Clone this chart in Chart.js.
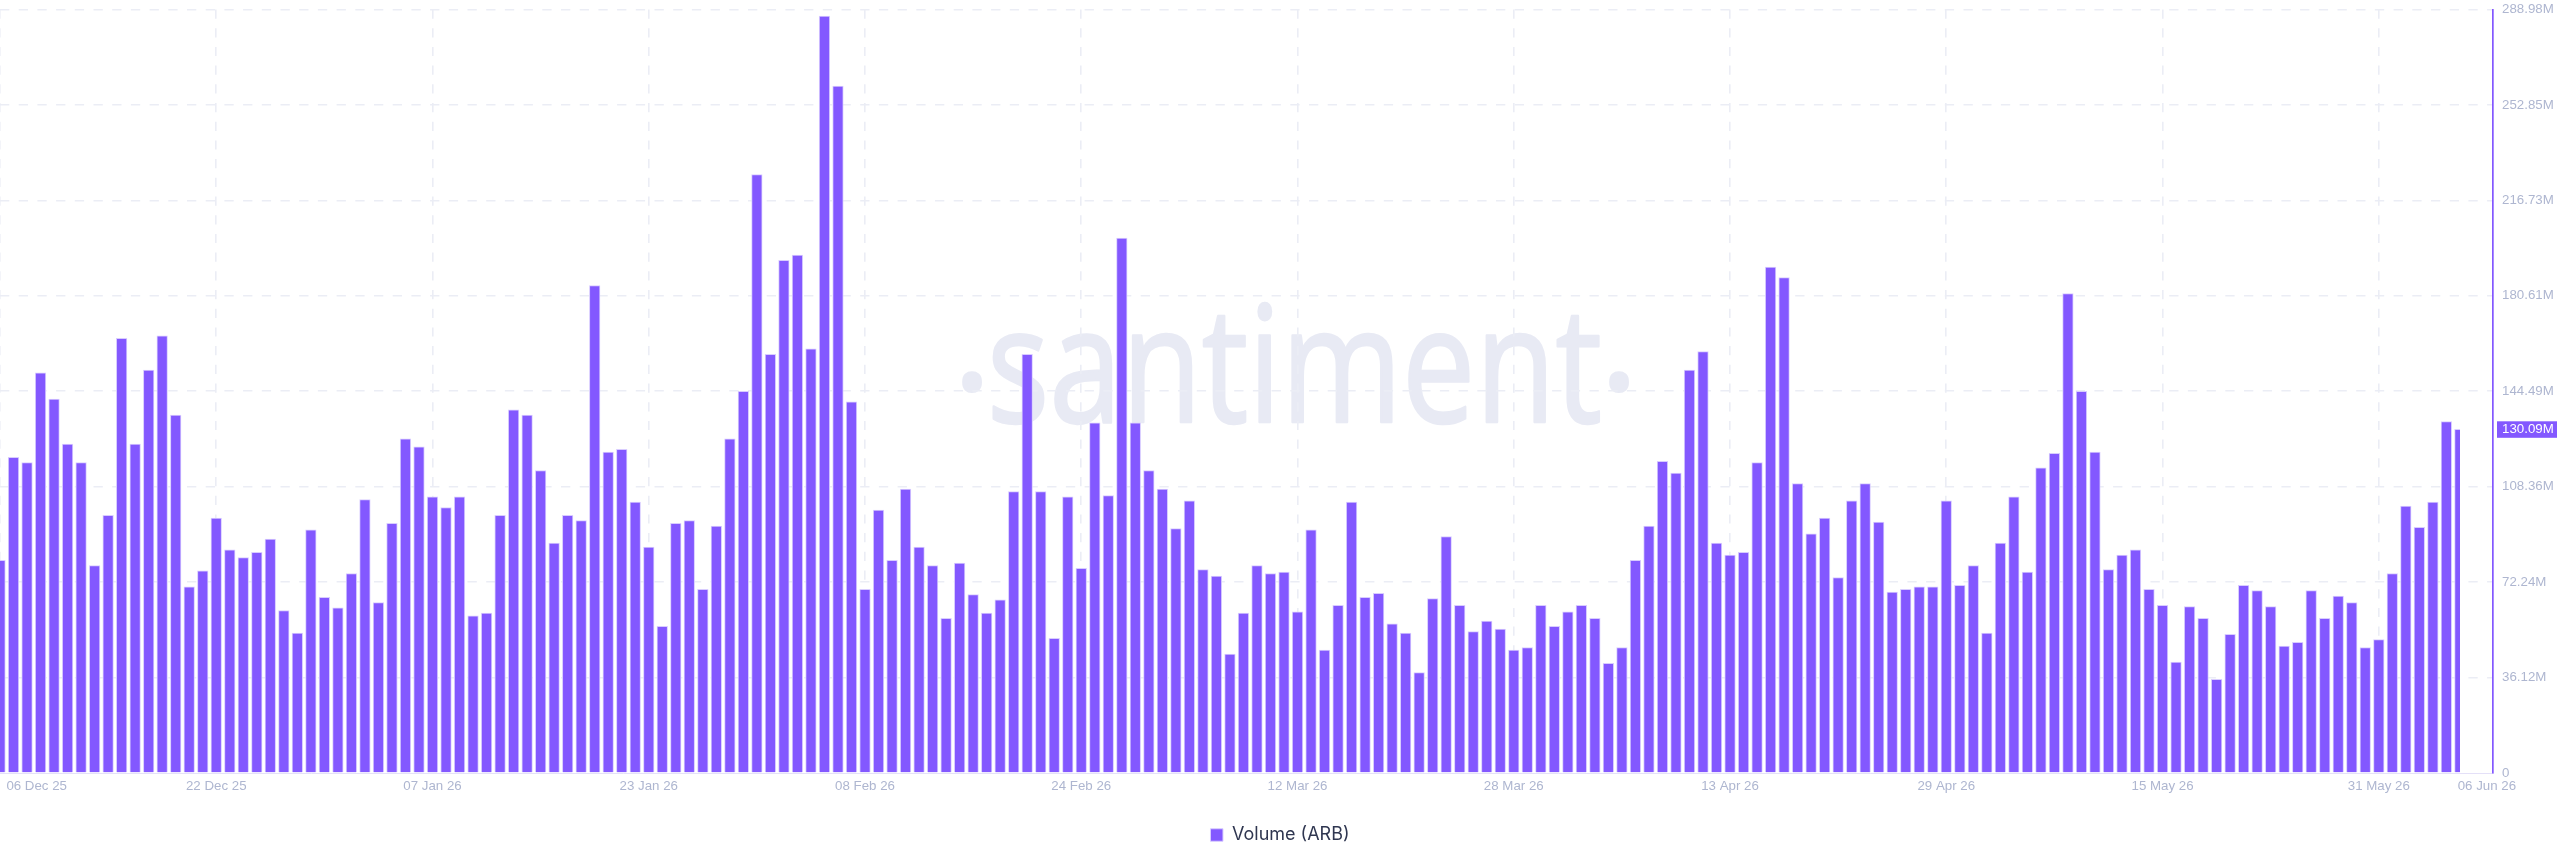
<!DOCTYPE html>
<html>
<head>
<meta charset="utf-8">
<style>html,body{margin:0;padding:0;background:#fff;overflow:hidden}canvas{display:block}</style>
<script src="https://cdn.jsdelivr.net/npm/chart.js@4"></script>
</head>
<body>
<canvas id="c" width="2560" height="867" style="width:2560px;height:867px"></canvas>
<script>
const seriesName = "Volume (ARB)";
const volumeM = [
80.5,119.5,117.5,151.5,141.5,124.5,117.5,78.5,97.5,164.5,124.5,152.5,165.5,135.5,70.5,76.5,96.5,84.5,81.5,83.5,88.5,61.5,53,92,66.5,62.5,75.5,103.5,64.5,94.5,
126.5,123.5,104.5,100.5,104.5,59.5,60.5,97.5,137.5,135.5,114.5,87,97.5,95.5,184.5,121.5,122.5,102.5,85.5,55.5,94.5,95.5,69.5,93.5,126.5,144.5,226.5,158.5,194,196,
160.5,286.5,260,140.5,69.5,99.5,80.5,107.5,85.5,78.5,58.5,79.5,67.5,60.5,65.5,106.5,158.5,106.5,51,104.5,77.5,132.5,105,202.5,132.5,114.5,107.5,92.5,103,77,
74.5,45,60.5,78.5,75.5,76,61,92,46.5,63.5,102.5,66.5,68,56.5,53,38,66,89.5,63.5,53.5,57.5,54.5,46.5,47.5,63.5,55.5,61,63.5,58.5,41.5,
47.5,80.5,93.5,118,113.5,152.5,159.5,87,82.5,83.5,117.5,191.5,187.5,109.5,90.5,96.5,74,103,109.5,95,68.5,69.5,70.5,70.5,103,71,78.5,53,87,104.5,
76,115.5,121,181.5,144.5,121.5,77,82.5,84.5,69.5,63.5,42,63,58.5,35.5,52.5,71,69,63,48,49.5,69,58.5,67,64.5,47.5,50.5,75.5,101,93,
102.5,133,130.09];
const xTickIndex = [0,16,32,48,64,80,96,112,128,144,160,176];
const xTickLabels = ["06 Dec 25","22 Dec 25","07 Jan 26","23 Jan 26","08 Feb 26","24 Feb 26","12 Mar 26","28 Mar 26","13 Apr 26","29 Apr 26","15 May 26","31 May 26"];
const lastTickLabel = "06 Jun 26";
const yTickValues = [0,36.12,72.24,108.36,144.49,180.61,216.73,252.85,288.98];
const yTickLabels = ["0","36.12M","72.24M","108.36M","144.49M","180.61M","216.73M","252.85M","288.98M"];
const latestLabel = "130.09M";
const watermarkWord = "santiment";
const watermarkDot = "·";

const PURPLE = "#8358ff", GRID = "#ebedf5", TXT = "#aeb6d0";
const FONT = "'Liberation Sans', Arial, sans-serif";
const firstLabelAt = 2.715, lastLabelAt = 184.0, xMax = 184.45;

const xLabelMap = new Map();
xTickIndex.forEach((v,i)=>{ if(i>0) xLabelMap.set(v,xTickLabels[i]); });
xLabelMap.set(firstLabelAt,xTickLabels[0]);
xLabelMap.set(lastLabelAt,lastTickLabel);
const xTicks = [0,firstLabelAt,...xTickIndex.slice(1),lastLabelAt];

const watermarkPlugin = {
  id:"wm",
  beforeDraw(chart){
    const ctx = chart.ctx;
    ctx.save();
    ctx.fillStyle = "#e8eaf4";
    ctx.strokeStyle = "#e8eaf4";
    ctx.textBaseline = "alphabetic";
    ctx.textAlign = "left";
    ctx.font = "500 162px 'Open Sans'";
    const w = ctx.measureText(watermarkWord).width;
    ctx.save();
    ctx.translate(987,422);
    ctx.scale(615/w,1);
    ctx.lineWidth = 2.5;
    ctx.lineJoin = "round";
    ctx.fillText(watermarkWord,0,0);
    ctx.strokeText(watermarkWord,0,0);
    ctx.restore();
    ctx.textAlign = "center";
    ctx.font = "170px 'Open Sans'";
    ctx.fillText(watermarkDot,972,442);
    ctx.fillText(watermarkDot,1619,442);
    ctx.restore();
  }
};
const latestPlugin = {
  id:"latest",
  afterDraw(chart){
    const ctx = chart.ctx, y = chart.scales.y.getPixelForValue(volumeM[volumeM.length-1]);
    ctx.save();
    ctx.fillStyle = PURPLE;
    ctx.fillRect(2497,y-8,60,16.5);
    ctx.fillStyle = "#fff";
    ctx.font = "13.3px "+FONT;
    ctx.textBaseline = "middle";
    ctx.textAlign = "left";
    ctx.fillText(latestLabel,2502,y+0.5);
    ctx.restore();
  }
};

new Chart(document.getElementById("c"),{
  type:"bar",
  plugins:[watermarkPlugin,latestPlugin],
  data:{datasets:[{
    label:seriesName,
    data:volumeM.map((y,x)=>({x,y})),
    backgroundColor:PURPLE,
    borderColor:"#d8ccff",
    borderWidth:1,
    barThickness:10.6,
    clip:{left:0,right:-33,top:10,bottom:0}
  }]},
  options:{
    responsive:false,
    devicePixelRatio:1,
    animation:false,
    layout:{padding:{top:9.5,bottom:13,left:0,right:0}},
    plugins:{
      tooltip:{enabled:false},
      legend:{
        position:"bottom",
        labels:{color:"#2f3650",font:{family:"Inter",size:18},boxWidth:12.5,boxHeight:12.5,padding:9}
      }
    },
    scales:{
      x:{
        type:"linear",min:0,max:xMax,offset:false,
        afterFit(s){s.height=44;s.paddingLeft=0;s.paddingRight=0;},
        afterBuildTicks(s){s.ticks=xTicks.map(value=>({value}))},
        ticks:{
          autoSkip:false,maxRotation:0,minRotation:0,padding:5,color:TXT,
          font:{family:FONT,size:13.3},
          callback:v=>xLabelMap.get(v)||""
        },
        grid:{
          offset:false,
          drawTicks:false,
          color:c=>(c.tick&&(c.tick.value===firstLabelAt||c.tick.value===lastLabelAt))?"rgba(0,0,0,0)":GRID,
          lineWidth:1.6
        },
        border:{display:true,color:"#e4e0f8",width:1,dash:[9.2,9.5]}
      },
      y:{
        position:"right",min:0,max:288.98,
        afterFit(s){s.width=67;s.paddingTop=0;s.paddingBottom=0;},
        afterBuildTicks(s){s.ticks=yTickValues.map(value=>({value}))},
        ticks:{
          autoSkip:false,padding:9,color:TXT,crossAlign:"near",
          font:{family:FONT,size:13.3},
          callback:v=>yTickLabels[yTickValues.indexOf(v)]
        },
        grid:{
          drawTicks:false,
          color:c=>(c.tick&&c.tick.value===0)?"rgba(0,0,0,0)":GRID,
          lineWidth:1.6
        },
        border:{display:true,color:PURPLE,width:1.7,dash:[9.3,9.4]}
      }
    }
  }
});
</script>
</body>
</html>
